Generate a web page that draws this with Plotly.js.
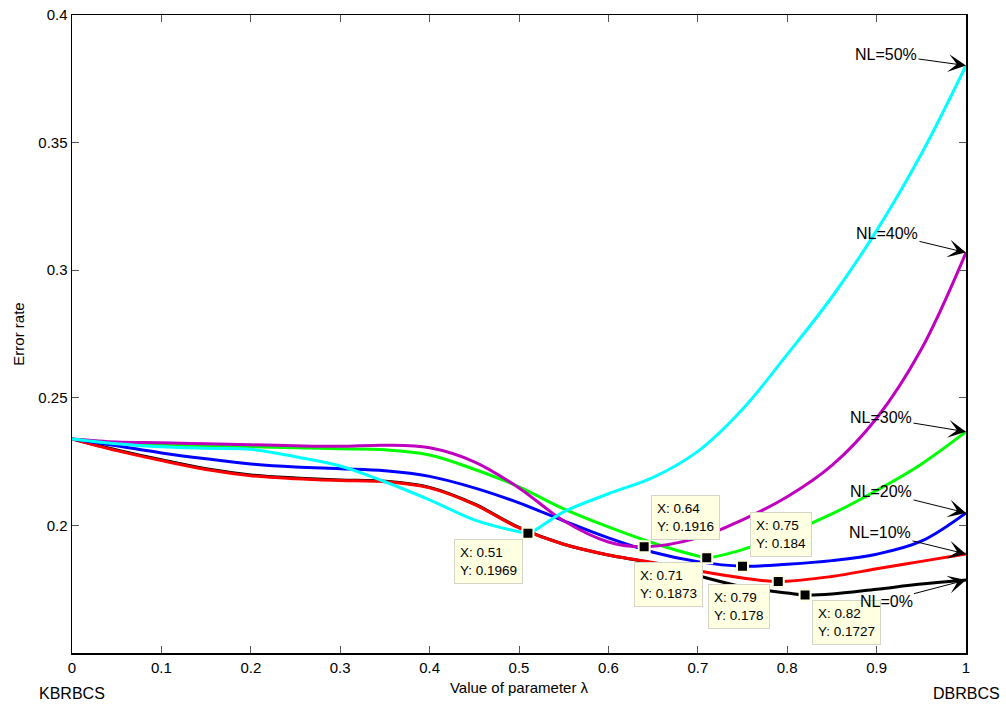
<!DOCTYPE html>
<html>
<head>
<meta charset="utf-8">
<script src="https://cdn.plot.ly/plotly-3.0.1.min.js"></script>
<style>html,body{margin:0;padding:0;background:#fff;}#chart{width:1006px;height:708px;}</style>
</head>
<body>
<div id="chart"></div>
<script>
// ---- data ----
const xBlack = [0,0.05,0.1,0.15,0.2,0.25,0.3,0.35,0.4,0.45,0.5,0.55,0.6,0.65,0.7,0.75,0.8,0.82,0.85,0.9,0.95,1];
const yBlack = [0.2339,0.2296,0.2257,0.2222,0.2198,0.2186,0.2178,0.2173,0.2149,0.2084,0.1992,0.1926,0.1884,0.1852,0.1803,0.1760,0.1735,0.1727,0.1731,0.1750,0.1770,0.1786];

const xRed = [0,0.05,0.1,0.15,0.2,0.25,0.3,0.35,0.4,0.45,0.5,0.55,0.6,0.65,0.7,0.75,0.79,0.85,0.9,0.95,1];
const yRed = [0.2339,0.2293,0.2254,0.2219,0.2195,0.2183,0.2176,0.2171,0.2147,0.2082,0.1990,0.1926,0.1884,0.1855,0.1822,0.1794,0.1780,0.1800,0.1830,0.1859,0.1888];

const xBlue = [0,0.05,0.1,0.15,0.2,0.25,0.3,0.35,0.4,0.45,0.5,0.55,0.6,0.65,0.7,0.75,0.8,0.85,0.9,0.95,1];
const yBlue = [0.2339,0.2312,0.2284,0.2261,0.2241,0.2229,0.2222,0.2214,0.2192,0.2147,0.2088,0.2018,0.1951,0.1895,0.1858,0.1840,0.1848,0.1862,0.1887,0.1938,0.2049];

const xGreen = [0,0.05,0.1,0.15,0.2,0.25,0.3,0.35,0.4,0.45,0.5,0.55,0.6,0.65,0.7,0.71,0.75,0.8,0.85,0.9,0.95,1];
const yGreen = [0.2339,0.2324,0.2316,0.2312,0.2308,0.2304,0.2300,0.2296,0.2276,0.2220,0.2151,0.2065,0.1994,0.1931,0.1880,0.1873,0.1905,0.1968,0.2045,0.2137,0.2240,0.2367];

const xPurple = [0,0.05,0.1,0.15,0.2,0.25,0.3,0.35,0.4,0.45,0.5,0.55,0.6,0.64,0.7,0.75,0.8,0.85,0.9,0.95,1];
const yPurple = [0.2339,0.2327,0.2324,0.2320,0.2316,0.2312,0.2310,0.2314,0.2304,0.2249,0.2147,0.2018,0.1935,0.1916,0.1951,0.2022,0.2112,0.2235,0.2420,0.2690,0.3069];

const xCyan = [0,0.05,0.1,0.15,0.2,0.25,0.3,0.35,0.4,0.45,0.5,0.51,0.55,0.6,0.65,0.7,0.75,0.8,0.85,0.9,0.95,1];
const yCyan = [0.2339,0.2320,0.2308,0.2302,0.2298,0.2269,0.2233,0.2171,0.2100,0.2022,0.1975,0.1969,0.2053,0.2124,0.2188,0.2290,0.2455,0.2670,0.2895,0.3155,0.3455,0.3802];

const seriesNames = ["NL=0%","NL=10%","NL=20%","NL=30%","NL=40%","NL=50%"];
const seriesColors = ["#000000","#ff0000","#0000ff","#00ff00","#bf00bf","#00ffff"];

const tipX = [0.51,0.64,0.71,0.75,0.79,0.82];
const tipY = [0.1969,0.1916,0.1873,0.184,0.178,0.1727];

const xTicks = [0,0.1,0.2,0.3,0.4,0.5,0.6,0.7,0.8,0.9,1];
const yTicks = [0.2,0.25,0.3,0.35,0.4];

// ---- build ----
const FONT = "Liberation Sans, Arial, sans-serif";
const xs = [xBlack,xRed,xBlue,xGreen,xPurple,xCyan];
const ys = [yBlack,yRed,yBlue,yGreen,yPurple,yCyan];
const traces = xs.map((x,i)=>({
  x:x, y:ys[i], type:"scatter", mode:"lines", name:seriesNames[i],
  line:{color:seriesColors[i], width:3, shape:"spline", smoothing:1}
}));
traces.push({
  x:tipX, y:tipY, type:"scatter", mode:"markers", name:"tips",
  marker:{symbol:"square", size:11, color:"#000000", line:{color:"#ffffe1", width:2}}
});

// data tip box placement (anchor side + pixel shift)
const tipPlace = [
  {xa:"right", ya:"top", dx:-5, dy:-6},
  {xa:"left", ya:"bottom", dx:7, dy:7},
  {xa:"right", ya:"top", dx:-4, dy:-4},
  {xa:"left", ya:"bottom", dx:7, dy:9},
  {xa:"right", ya:"top", dx:-8, dy:-2},
  {xa:"left", ya:"top", dx:7, dy:-5}
];
const annotations = tipX.map((x,i)=>({
  x:x, y:tipY[i], xref:"x", yref:"y", showarrow:false,
  text:"X: "+x+"<br>Y: "+tipY[i], align:"left",
  xanchor:tipPlace[i].xa, yanchor:tipPlace[i].ya,
  xshift:tipPlace[i].dx, yshift:tipPlace[i].dy,
  bgcolor:"#ffffe1", bordercolor:"#d4d4c8", borderwidth:1, borderpad:5,
  font:{family:FONT, size:13.5, color:"#000"}
}));

// NL labels with arrows pointing at the series end points
const labelOffsets = [[-80,21],[-86,-21],[-85,-21],[-85,-14],[-79,-19],[-80,-11]];
ys.forEach((y,i)=>{
  annotations.push({
    x:1, y:y[y.length-1], xref:"x", yref:"y",
    text:seriesNames[i], showarrow:true, arrowhead:3, arrowsize:3, arrowwidth:1,
    arrowcolor:"#000", ax:labelOffsets[i][0], ay:labelOffsets[i][1],
    standoff:0, startstandoff:0,
    font:{family:FONT, size:16, color:"#000"}
  });
});
annotations.push({x:0, y:0, xref:"x", yref:"paper", text:"KBRBCS", showarrow:false,
  xanchor:"center", yanchor:"top", yshift:-30, font:{family:FONT, size:16, color:"#000"}});
annotations.push({x:1, y:0, xref:"x", yref:"paper", text:"DBRBCS", showarrow:false,
  xanchor:"center", yanchor:"top", yshift:-30, font:{family:FONT, size:16, color:"#000"}});

const layout = {
  width:1006, height:708,
  margin:{l:72, r:40, t:15, b:55},
  paper_bgcolor:"#ffffff", plot_bgcolor:"#ffffff",
  showlegend:false,
  font:{family:FONT, size:15, color:"#000"},
  xaxis:{
    range:[0,1], tickvals:xTicks, ticktext:xTicks.map(String),
    ticks:"inside", ticklen:7, tickcolor:"#555", mirror:"ticks",
    showline:true, linecolor:"#000", linewidth:1.5, showgrid:false, zeroline:false,
    tickfont:{family:FONT, size:15, color:"#000"},
    title:{text:"Value of parameter λ", standoff:8, font:{family:FONT, size:15, color:"#000"}}
  },
  yaxis:{
    range:[0.15,0.4], tickvals:yTicks, ticktext:yTicks.map(String),
    ticks:"inside", ticklen:7, tickcolor:"#555", mirror:"ticks",
    showline:true, linecolor:"#000", linewidth:1.5, showgrid:false, zeroline:false,
    tickfont:{family:FONT, size:15, color:"#000"},
    title:{text:"Error rate", standoff:10, font:{family:FONT, size:15, color:"#000"}}
  },
  annotations:annotations
};
Plotly.newPlot("chart", traces, layout, {displayModeBar:false, staticPlot:true});
</script>
</body>
</html>
